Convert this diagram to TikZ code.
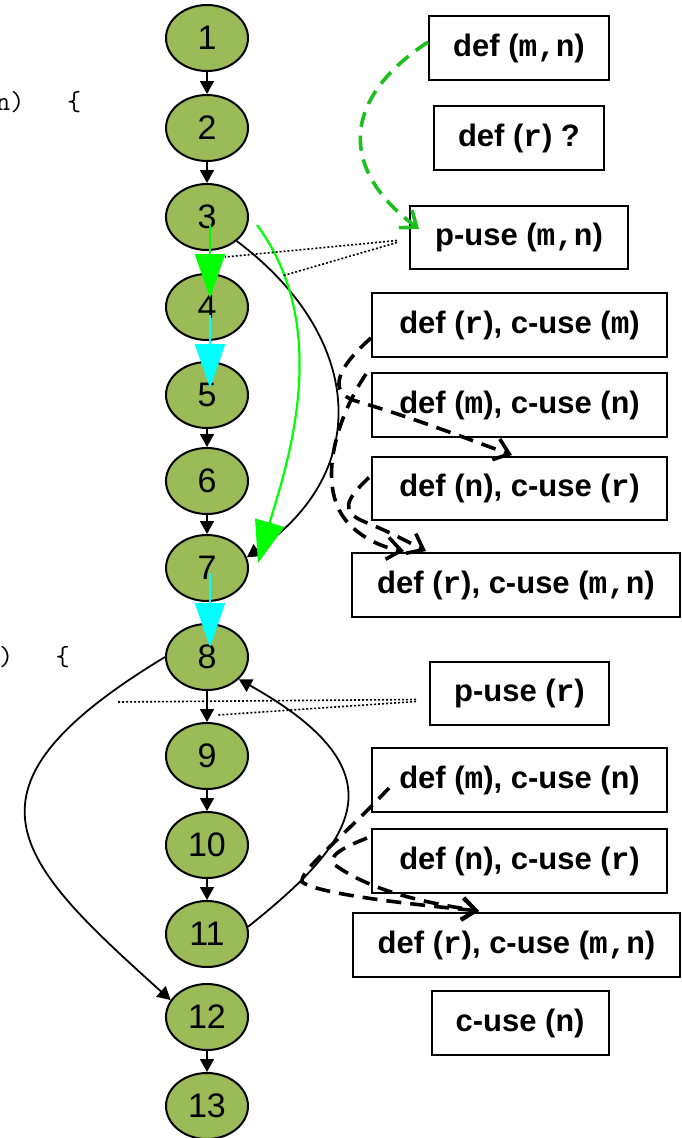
\documentclass[tikz,border=0pt]{standalone}
\usepackage{fontspec}
\setmainfont{Liberation Sans}
\newfontfamily\bsans{Liberation Sans}
\newfontfamily\bmono{Liberation Mono}
\usetikzlibrary{shapes.geometric,arrows.meta,calc}
\definecolor{nodegreen}{HTML}{9BBB59}
\definecolor{bgreen}{HTML}{00FF00}
\definecolor{bcyan}{HTML}{00FFFF}
\definecolor{dgreen}{HTML}{1CBF1C}
\newcommand{\vv}[1]{{\bmono\bfseries #1}}
\tikzset{
  cnode/.style={ellipse, draw=black, line width=2pt, fill=nodegreen, minimum width=82pt, minimum height=66pt, inner sep=0pt, font=\bsans\fontsize{34}{40}\selectfont},
  box/.style={draw=black, line width=2pt, minimum height=64pt, inner sep=0pt, font=\bsans\bfseries\fontsize{31}{36}\selectfont},
  code/.style={inner sep=0pt, font=\ttfamily\fontsize{27.5}{32}\selectfont},
  arr/.style={draw=black, line width=1.8pt, -{Triangle[length=13pt,width=14pt]}},
  gline/.style={draw=bgreen, line width=2.2pt, -{Triangle[length=44pt,width=30pt]}},
  cline/.style={draw=bcyan, line width=2.2pt, -{Triangle[length=44pt,width=30pt]}},
  dotline/.style={draw=black, line width=1.6pt, dash pattern=on 2pt off 2pt},
  gdash/.style={draw=dgreen, line width=3.6pt, dash pattern=on 15pt off 9pt, -{Straight Barb[length=14pt,width=22pt]}},
  ddash/.style={draw=black, line width=3.6pt, dash pattern=on 15pt off 9pt, -{Straight Barb[length=14pt,width=22pt]}}
}
\begin{document}
\begin{tikzpicture}[x=1pt,y=-1pt]
\useasboundingbox (0,0) rectangle (681,1138);
\clip (0,0) rectangle (681,1138);

% code fragments at the left edge
\node[code, anchor=base west] (c1) at (-4,110) {n)\ \ \ \{};
\node[code, anchor=base west] (c2) at (-1.2,665) {)\ \ \ \{};

% flow graph nodes
\node[cnode] (n1) at (207,38) {1};
\node[cnode] (n2) at (207,128) {2};
\node[cnode] (n3) at (207,217) {3};
\node[cnode] (n4) at (207,307) {4};
\node[cnode] (n5) at (207,395) {5};
\node[cnode] (n6) at (207,481) {6};
\node[cnode] (n7) at (207,568) {7};
\node[cnode] (n8) at (207,657) {8};
\node[cnode] (n9) at (207,756) {9};
\node[cnode] (n10) at (207,845) {10};
\node[cnode] (n11) at (207,934) {11};
\node[cnode] (n12) at (207,1017) {12};
\node[cnode] (n13) at (207,1106) {13};

% annotation boxes
\node[box, minimum width=180pt] (b1) at (519,48) {def (\vv{m,n})};
\node[box, minimum width=170pt] (b2) at (519,138) {def (\vv{r}) ?};
\node[box, minimum width=218pt, minimum height=63pt] (b3) at (519,237.5) {p-use (\vv{m,n})};
\node[box, minimum width=295pt] (b4) at (519.5,325) {def (\vv{r}), c-use (\vv{m})};
\node[box, minimum width=295pt] (b5) at (519.5,405) {def (\vv{m}), c-use (\vv{n})};
\node[box, minimum width=295pt, minimum height=63pt] (b6) at (519.5,488.5) {def (\vv{n}), c-use (\vv{r})};
\node[box, minimum width=328pt] (b7) at (516,585) {def (\vv{r}), c-use (\vv{m,n})};
\node[box, minimum width=179pt, minimum height=63pt] (b8) at (519.5,693.5) {p-use (\vv{r})};
\node[box, minimum width=295pt] (b9) at (519.5,780) {def (\vv{m}), c-use (\vv{n})};
\node[box, minimum width=295pt] (b10) at (519.5,861) {def (\vv{n}), c-use (\vv{r})};
\node[box, minimum width=327pt] (b11) at (516.5,945) {def (\vv{r}), c-use (\vv{m,n})};
\node[box, minimum width=177pt] (b12) at (520,1023) {c-use (\vv{n})};

% straight edges
\draw[arr] (n1) -- (n2);
\draw[arr] (n2) -- (n3);
\draw[arr] (n5) -- (n6);
\draw[arr] (n6) -- (n7);
\draw[arr] (n8) -- (n9);
\draw[arr] (n9) -- (n10);
\draw[arr] (n10) -- (n11);
\draw[arr] (n12) -- (n13);

% curved edges
\draw[arr] (n3.south east) .. controls (362,335) and (375,470) .. (n7.15);
\draw[arr] (n8.west) .. controls (-55,790) and (15,860) .. (n12.155);
\draw[arr] (n11.10) .. controls (350,845) and (410,775) .. (n8.-35);

% highlighted path
\draw[gline] ($(n3.center)+(3,8)$) -- ($(n4.center)+(3,-9)$);
\draw[cline] ($(n4.center)+(3,8)$) -- ($(n5.center)+(3,-7)$);
\draw[cline] ($(n7.center)+(3,5)$) -- ($(n8.center)+(3,-10)$);
\draw[gline, -{Triangle[length=42pt,width=30pt]}] ($(n3.east)+(8,8)$) .. controls (335,330) and (285,470) .. ($(n7.east)+(9,-5)$);

% dotted predicate pointers
\coordinate (d1) at (225,257);
\coordinate (d2) at (282,276);
\coordinate (d3) at (117,702);
\coordinate (d4) at (218,715);
\draw[dotline] ($(b3.west)+(-12,3)$) -- (d1);
\draw[dotline] ($(b3.west)+(-12,5)$) -- (d2);
\draw[dotline] ($(b8.west)+(-13,6)$) -- (d3);
\draw[dotline] ($(b8.west)+(-13,8)$) -- (d4);

% def-use dashed arrows
\draw[gdash] ($(b1.west)+(0,-6)$) .. controls (340,100) and (340,170) .. ($(b3.north west)+(10,24)$);
\draw[ddash] ($(b4.west)+(0,13)$) .. controls (340,365) and (325,392) .. (356,401) .. controls (420,420) and (470,440) .. ($(b6.north west)+(141,-1)$);
\draw[ddash] ($(b5.north west)+(-5,2)$) .. controls (335,420) and (315,490) .. (350,525) .. controls (365,540) and (385,548) .. ($(b7.north west)+(53,-1)$);
\draw[ddash] ($(b6.west)+(-2,-11)$) .. controls (345,500) and (340,512) .. (365,522) .. controls (390,532) and (410,543) .. ($(b7.north west)+(75,-1)$);
\draw[ddash] ($(b9.west)+(18,8)$) .. controls (340,840) and (300,870) .. (302,882) .. controls (320,895) and (420,905) .. ($(b11.north west)+(127,-1)$);
\draw[ddash] ($(b10.west)+(-4,-23)$) .. controls (350,845) and (325,855) .. (335,865) .. controls (370,890) and (420,902) .. ($(b11.north west)+(127,-1)$);
\end{tikzpicture}
\end{document}
